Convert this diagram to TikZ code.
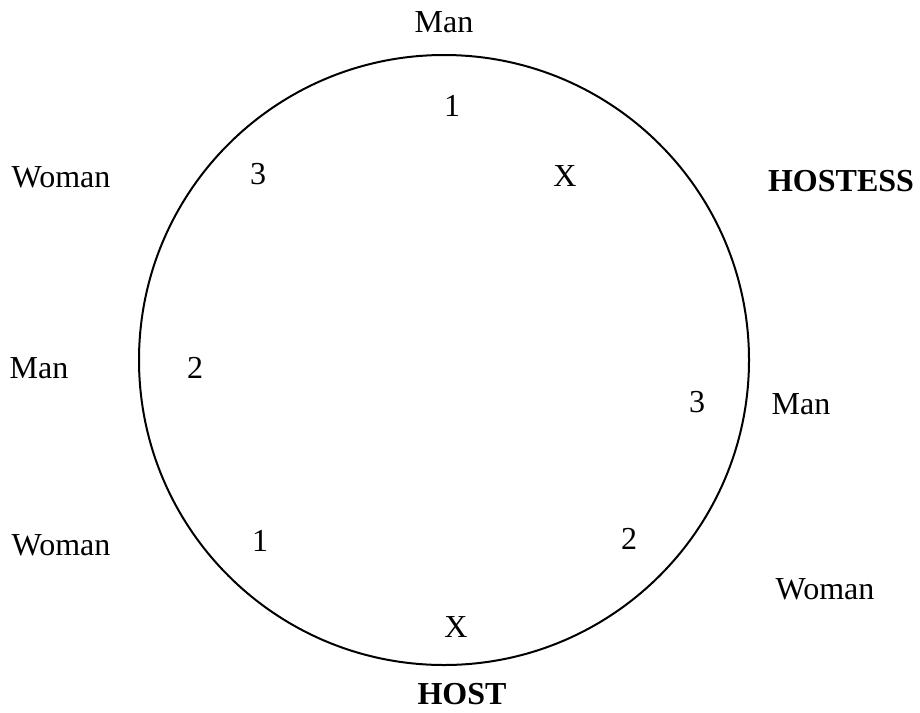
\documentclass[tikz,border=0pt]{standalone}
\usepackage{fontspec}
\setmainfont{Liberation Serif}
\usepackage{tikz}
\usetikzlibrary{positioning}

\begin{document}
\begin{tikzpicture}[
  x=1pt, y=-1pt,
  label/.style={font=\fontsize{32}{38}\selectfont, inner sep=0pt},
  seat/.style={font=\fontsize{32}{38}\selectfont, inner sep=0pt},
  hostlabel/.style={label, font=\fontsize{32}{38}\selectfont\bfseries}
]
  \useasboundingbox (0,0) rectangle (920,712);

  % Table
  \node[draw, circle, minimum size=610pt, line width=2pt] (table) at (444,360) {};

  % Guests round the table
  \foreach \i/\x/\y/\t in {1/444/22/Man, 2/61/177/Woman, 3/39/368/Man, 4/801/404/Man, 5/61/545/Woman, 6/825/589/Woman} {
    \node[label] (g\i) at (\x,\y) {\t};
  }

  % Seat numbers
  \foreach \i/\x/\y/\t in {1/452/106/1, 2/258/174/3, 3/565/176/X, 4/195/368/2, 5/697/402/3, 6/260/541/1, 7/629/539/2, 8/456/627/X} {
    \node[seat] (s\i) at (\x,\y) {\t};
  }

  % Hosts
  \node[hostlabel] (hostess) at (841,181) {HOSTESS};
  \node[hostlabel] (host) at (462,694) {HOST};
\end{tikzpicture}
\end{document}
